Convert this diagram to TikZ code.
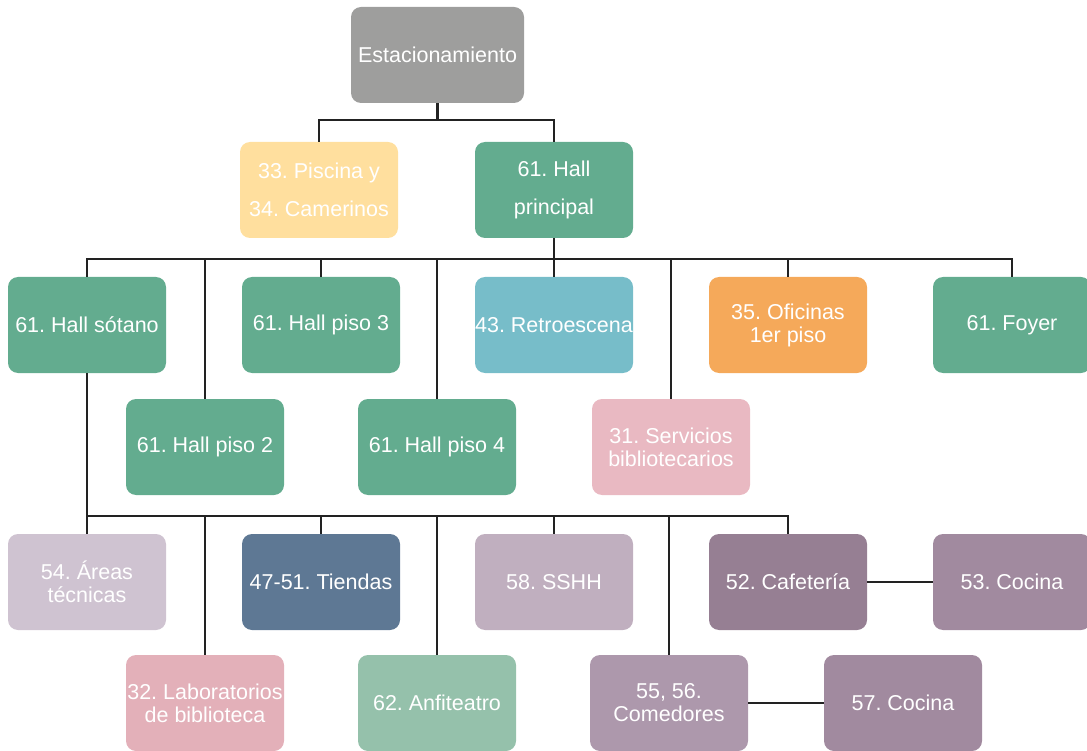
\documentclass[tikz,border=0pt]{standalone}
\usepackage{fontspec}
\setmainfont{Liberation Sans}
\definecolor{cGray}{HTML}{9E9E9D}
\definecolor{cYel}{HTML}{FFDF9E}
\definecolor{cGreen}{HTML}{63AC8F}
\definecolor{cCyan}{HTML}{77BDC9}
\definecolor{cOrange}{HTML}{F5A95A}
\definecolor{cPink}{HTML}{E9B9C2}
\definecolor{cLilac}{HTML}{CFC3D1}
\definecolor{cBlue}{HTML}{5E7894}
\definecolor{cMauve}{HTML}{C0AFBF}
\definecolor{cPlum}{HTML}{967F93}
\definecolor{cPlumL}{HTML}{A18A9F}
\definecolor{cRose}{HTML}{E3B0B9}
\definecolor{cMint}{HTML}{95C1AB}
\definecolor{cCom}{HTML}{AD98AC}
\definecolor{cLine}{HTML}{222222}
\tikzset{
  box/.style={rounded corners=10pt, minimum width=158pt, minimum height=96pt,
    inner sep=0pt, text=white, align=center,
    font=\fontsize{21.5}{23}\selectfont\frenchspacing},
  wide/.style={font=\fontsize{21.5}{38}\selectfont\frenchspacing},
  conn/.style={draw=cLine, line width=2.7pt},
}
\begin{document}
\begin{tikzpicture}[x=1pt,y=-1pt]
\useasboundingbox (0,0) rectangle (1087,751);
% nodes
\node[box, fill=cGray, minimum width=173pt] (est) at (437.5,55) {Estacionamiento};
\node[box, wide, fill=cYel] (pis) at (319,190) {33. Piscina y\\34. Camerinos};
\node[box, wide, fill=cGreen] (hpr) at (554,190) {61. Hall\\principal};
\node[box, fill=cGreen] (hs) at (87,325) {61. Hall sótano};
\node[box, fill=cGreen] (hp3) at (321,325) {61. Hall piso 3};
\node[box, fill=cCyan] (ret) at (554,325) {43. Retroescena};
\node[box, fill=cOrange] (ofi) at (788,325) {35. Oficinas\\1er piso};
\node[box, fill=cGreen] (foy) at (1012,325) {61. Foyer};
\node[box, fill=cGreen] (hp2) at (205,447) {61. Hall piso 2};
\node[box, fill=cGreen] (hp4) at (437,447) {61. Hall piso 4};
\node[box, fill=cPink] (ser) at (671,447) {31. Servicios\\bibliotecarios};
\node[box, fill=cLilac] (are) at (87,582) {54. Áreas\\técnicas};
\node[box, fill=cBlue] (tie) at (321,582) {47-51. Tiendas};
\node[box, fill=cMauve] (ssh) at (554,582) {58. SSHH};
\node[box, fill=cPlum] (caf) at (788,582) {52. Cafetería};
\node[box, fill=cPlumL] (coa) at (1012,582) {53. Cocina};
\node[box, fill=cRose] (lab) at (205,703) {32. Laboratorios\\de biblioteca};
\node[box, fill=cMint] (anf) at (437,703) {62. Anfiteatro};
\node[box, fill=cCom] (com) at (669,703) {55, 56.\\Comedores};
\node[box, fill=cPlumL] (cob) at (903,703) {57. Cocina};
% connectors level 1
\draw[conn] (est.south) -- (est.south |- 0,120) -| (pis.north);
\draw[conn] (est.south |- 0,120) -| (hpr.north);
% bus 1
\draw[conn] (hpr.south) -- (hpr.south |- 0,259);
\draw[conn] (hs.north) -- (hs.north |- 0,259) -- (foy.north |- 0,259) -- (foy.north);
\foreach \n in {hp3,ret,ofi,hp2,hp4,ser}
  \draw[conn] (\n.north) -- (\n.north |- 0,259);
% bus 2
\draw[conn] (hs.south) -- (hs.south |- 0,516) -- (caf.north |- 0,516) -- (caf.north);
\foreach \n in {are,tie,ssh,lab,anf,com}
  \draw[conn] (\n.north) -- (\n.north |- 0,516);
% side links
\draw[conn] (caf.east) -- (coa.west);
\draw[conn] (com.east) -- (cob.west);
\end{tikzpicture}
\end{document}
